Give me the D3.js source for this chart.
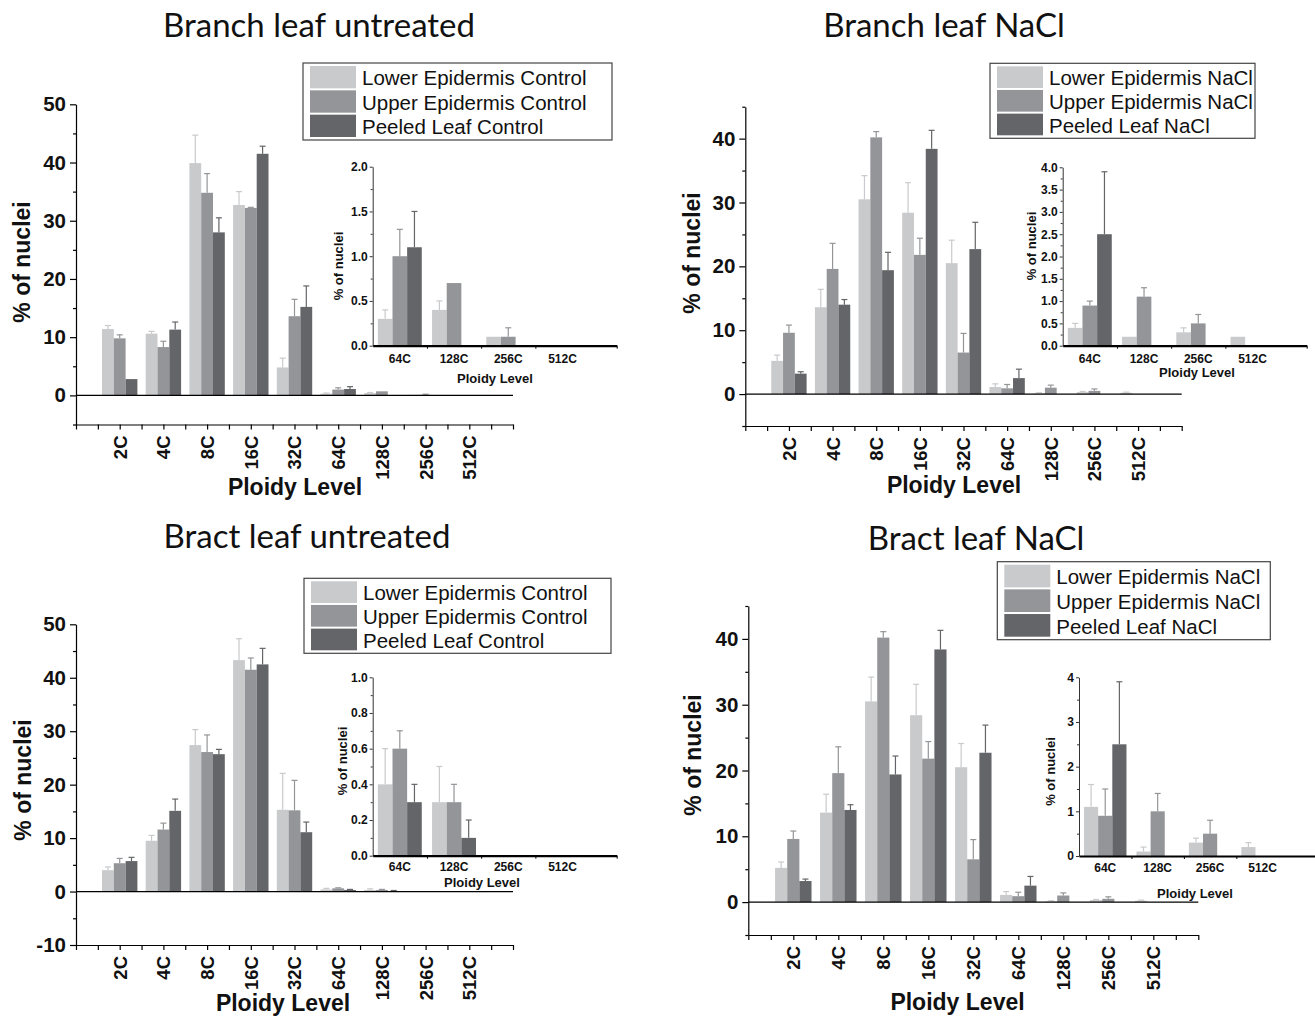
<!DOCTYPE html>
<html>
<head>
<meta charset="utf-8">
<script src="https://cdn.jsdelivr.net/npm/d3@7"></script>
<style>
  body { margin: 0; background: #fff; }
  svg text { font-family: "Liberation Sans", Arial, sans-serif; fill: #111; }
  .title { font-family: Lato, "Open Sans", sans-serif; font-size: 33px; }
</style>
</head>
<body>
<svg width="1315" height="1016"></svg>
<script>

var ploidy = ["2C", "4C", "8C", "16C", "32C", "64C", "128C", "256C", "512C"];
var insetPloidy = ["64C", "128C", "256C", "512C"];

var controlNames = ["Lower Epidermis Control", "Upper Epidermis Control", "Peeled Leaf Control"];
var naclNames = ["Lower Epidermis NaCl", "Upper Epidermis NaCl", "Peeled Leaf NaCl"];

var colors = ["#c9cacc", "#949598", "#646568"];

// branch leaf, untreated
var branchLower    = [11.4, 10.6, 39.9, 32.7, 4.8, 0.3, 0.4, 0.1, 0];
var branchLowerErr = [0.6, 0.4, 4.8, 2.3, 1.6, 0.1, 0.1, 0, 0];
var branchUpper    = [9.8, 8.3, 34.8, 32.2, 13.6, 1.0, 0.7, 0.1, 0];
var branchUpperErr = [0.6, 1.0, 3.3, 0.1, 2.9, 0.3, 0, 0.1, 0];
var branchPeeled    = [2.8, 11.3, 28.0, 41.5, 15.2, 1.1, 0, 0, 0];
var branchPeeledErr = [0, 1.3, 2.5, 1.3, 3.6, 0.4, 0, 0, 0];

// NaCl (the main plots of both NaCl panels show the same values)
var naclLower    = [5.2, 13.6, 30.5, 28.4, 20.5, 1.1, 0.1, 0.3, 0.2];
var naclLowerErr = [0.9, 2.8, 3.7, 4.7, 3.6, 0.5, 0.1, 0.1, 0.1];
var naclUpper    = [9.6, 19.6, 40.2, 21.8, 6.5, 0.9, 1.0, 0.5, 0];
var naclUpperErr = [1.2, 4.0, 0.9, 2.6, 3.0, 0.6, 0.4, 0.3, 0];
var naclPeeled    = [3.2, 14.0, 19.4, 38.4, 22.7, 2.5, 0, 0, 0];
var naclPeeledErr = [0.3, 0.8, 2.8, 2.9, 4.2, 1.4, 0, 0, 0];

// inset of branch leaf NaCl
var branchNaclInsetLower    = [0.4, 0.2, 0.3, 0.2];
var branchNaclInsetLowerErr = [0.1, 0, 0.1, 0];
var branchNaclInsetUpper    = [0.9, 1.1, 0.5, 0];
var branchNaclInsetUpperErr = [0.1, 0.2, 0.2, 0];
var branchNaclInsetPeeled    = [2.5, 0, 0, 0];
var branchNaclInsetPeeledErr = [1.4, 0, 0, 0];

// bract leaf, untreated
var bractLower    = [4.0, 9.5, 27.4, 43.3, 15.3, 0.4, 0.3, 0, 0];
var bractLowerErr = [0.6, 1.0, 2.9, 4.0, 6.8, 0.2, 0.2, 0, 0];
var bractUpper    = [5.3, 11.6, 26.1, 41.5, 15.2, 0.6, 0.3, 0, 0];
var bractUpperErr = [0.9, 1.2, 3.2, 2.2, 5.6, 0.1, 0.1, 0, 0];
var bractPeeled    = [5.7, 15.1, 25.7, 42.5, 11.1, 0.3, 0.1, 0, 0];
var bractPeeledErr = [0.7, 2.2, 0.9, 3.0, 1.9, 0.1, 0.1, 0, 0];

function series(vals, errs) {
  return vals.map(function(v, i) { return {values: v, errs: errs[i]}; });
}
function tail(list) {
  return list.map(function(s) { return {values: s.values.slice(5), errs: s.errs.slice(5)}; });
}

var branchSeries = series([branchLower, branchUpper, branchPeeled], [branchLowerErr, branchUpperErr, branchPeeledErr]);
var naclSeries = series([naclLower, naclUpper, naclPeeled], [naclLowerErr, naclUpperErr, naclPeeledErr]);
var bractSeries = series([bractLower, bractUpper, bractPeeled], [bractLowerErr, bractUpperErr, bractPeeledErr]);
var branchNaclInset = series([branchNaclInsetLower, branchNaclInsetUpper, branchNaclInsetPeeled],
  [branchNaclInsetLowerErr, branchNaclInsetUpperErr, branchNaclInsetPeeledErr]);

var panels = [
  {title: "Branch leaf untreated", titleX: 319, titleY: 37,
   left: 76, right: 513, top: 104.3, bottom: 424.5, yDomain: [-5, 50],
   series: branchSeries, names: controlNames,
   legend: {x: 303, y: 63, w: 309, h: 77},
   xTitle: [295, 495], yTitle: [22, 262],
   inset: {left: 372.7, right: 616.7, top: 166.7, bottom: 345.7, max: 2, major: 0.5, minor: 0.25, fmt: ".1f",
           series: tail(branchSeries), labelY: 363, xTitle: [495, 383], yTitle: [338.5, 266]}},
  {title: "Branch leaf NaCl", titleX: 944, titleY: 37,
   left: 745.3, right: 1181.7, top: 106.7, bottom: 426, yDomain: [-5, 45],
   series: naclSeries, names: naclNames,
   legend: {x: 990, y: 63.3, w: 265, h: 75},
   xTitle: [954, 493], yTitle: [692, 253],
   inset: {left: 1062.7, right: 1306.7, top: 167.3, bottom: 345.7, max: 4, major: 0.5, minor: 0.25, fmt: ".1f",
           series: branchNaclInset, labelY: 363, xTitle: [1197, 377], yTitle: [1031, 246]}},
  {title: "Bract leaf untreated", titleX: 307, titleY: 548,
   left: 76, right: 513, top: 624.3, bottom: 945, yDomain: [-10, 50],
   series: bractSeries, names: controlNames,
   legend: {x: 304, y: 578.3, w: 307, h: 75},
   xTitle: [283, 1011], yTitle: [22.5, 780],
   inset: {left: 372.7, right: 616.7, top: 677.3, bottom: 855.7, max: 1, major: 0.2, minor: 0.1, fmt: ".1f",
           series: tail(bractSeries), labelY: 871, xTitle: [482, 887], yTitle: [342.5, 761]}},
  {title: "Bract leaf NaCl", titleX: 976, titleY: 550,
   left: 748.3, right: 1198.3, top: 606, bottom: 935, yDomain: [-5, 45],
   series: naclSeries, names: naclNames,
   legend: {x: 997.3, y: 561.7, w: 273, h: 78},
   xTitle: [957.5, 1010], yTitle: [693, 755],
   inset: {left: 1079, right: 1315, top: 677.3, bottom: 856, max: 4, major: 1, minor: 0.5, fmt: "d",
           series: tail(naclSeries), labelY: 872, xTitle: [1195, 898], yTitle: [1050, 771.5]}}
];

var svg = d3.select("svg");

function drawBars(g, x, y, list, bw) {
  list.forEach(function(s, si) {
    var rows = s.values.map(function(v, i) { return {v: v, e: s.errs[i], i: i}; });
    g.append("g").selectAll("rect").data(rows.filter(function(d) { return d.v > 0; }))
      .enter().append("rect")
      .attr("x", function(d) { return x(d.i + 1) + (si - 1.5) * bw; })
      .attr("width", bw)
      .attr("y", function(d) { return y(d.v); })
      .attr("height", function(d) { return y(0) - y(d.v); })
      .attr("fill", colors[si]);

    var err = g.append("g").attr("stroke", colors[si]).attr("stroke-width", 1.2)
      .selectAll("g").data(rows.filter(function(d) { return d.e > 0; }))
      .enter().append("g");
    err.append("line")
      .attr("x1", function(d) { return x(d.i + 1) + (si - 1) * bw; })
      .attr("x2", function(d) { return x(d.i + 1) + (si - 1) * bw; })
      .attr("y1", function(d) { return y(d.v); })
      .attr("y2", function(d) { return y(d.v + d.e); });
    err.append("line")
      .attr("x1", function(d) { return x(d.i + 1) + (si - 1) * bw - 3; })
      .attr("x2", function(d) { return x(d.i + 1) + (si - 1) * bw + 3; })
      .attr("y1", function(d) { return y(d.v + d.e); })
      .attr("y2", function(d) { return y(d.v + d.e); });
  });
}

function drawPanel(p) {
  var g = svg.append("g");

  g.append("text").attr("class", "title")
    .attr("x", p.titleX).attr("y", p.titleY)
    .attr("text-anchor", "middle")
    .text(p.title);

  var x = d3.scaleLinear().domain([0, 10]).range([p.left, p.right]);
  var y = d3.scaleLinear().domain(p.yDomain).range([p.bottom, p.top]);
  var bw = x(0.27) - x(0);

  drawBars(g, x, y, p.series, bw);

  g.append("line")
    .attr("x1", p.left).attr("x2", p.right)
    .attr("y1", y(0)).attr("y2", y(0))
    .attr("stroke", "#000").attr("stroke-width", 1.2);

  // y axis, major + minor ticks
  var majors = d3.range(Math.ceil(p.yDomain[0] / 10) * 10, p.yDomain[1] + 0.1, 10);
  var minors = d3.range(p.yDomain[0], p.yDomain[1] + 0.1, 5).filter(function(d) { return d % 10 !== 0; });

  var ya = g.append("g").attr("transform", "translate(" + p.left + ",0)")
    .call(d3.axisLeft(y).tickValues(majors).tickSize(6).tickSizeOuter(0).tickPadding(4)
      .tickFormat(function(d) { return String(d); }));
  ya.selectAll("text").attr("font-size", 20.5).attr("font-weight", "bold").attr("font-family", null);
  g.append("g").attr("transform", "translate(" + p.left + ",0)")
    .call(d3.axisLeft(y).tickValues(minors).tickSize(3).tickFormat(""))
    .select(".domain").remove();

  // x axis
  var xa = g.append("g").attr("transform", "translate(0," + p.bottom + ")")
    .call(d3.axisBottom(x)
      .tickValues(d3.range(0, 21).map(function(d) { return d / 2; }))
      .tickSize(5).tickSizeOuter(0)
      .tickFormat(function(d) { return (d % 1 === 0 && d >= 1 && d <= 9) ? ploidy[d - 1] : ""; }));
  xa.selectAll("text")
    .attr("transform", "rotate(-90)")
    .attr("x", -11).attr("y", 0).attr("dy", "0.35em")
    .style("text-anchor", "end")
    .attr("font-size", 18.5).attr("font-weight", "bold").attr("font-family", null);

  g.selectAll(".domain, .tick line").attr("stroke", "#000").attr("stroke-width", 1.2);

  g.append("text")
    .attr("x", p.xTitle[0]).attr("y", p.xTitle[1])
    .attr("text-anchor", "middle")
    .attr("font-size", 23).attr("font-weight", "bold")
    .text("Ploidy Level");

  g.append("text")
    .attr("transform", "translate(" + p.yTitle[0] + "," + p.yTitle[1] + ") rotate(-90)")
    .attr("text-anchor", "middle").attr("dy", "0.35em")
    .attr("font-size", 23).attr("font-weight", "bold")
    .text("% of nuclei");

  drawLegend(g, p.legend, p.names);
  drawInset(g, p.inset);
}

function drawLegend(g, b, names) {
  var lg = g.append("g");
  lg.append("rect")
    .attr("x", b.x).attr("y", b.y).attr("width", b.w).attr("height", b.h)
    .attr("fill", "#fff").attr("stroke", "#444").attr("stroke-width", 1.2);
  var rowH = (b.h - 4) / 3;
  var rows = lg.selectAll("g.row").data(names).enter().append("g")
    .attr("transform", function(d, i) { return "translate(" + (b.x + 7) + "," + (b.y + 2 + i * rowH) + ")"; });
  rows.append("rect")
    .attr("width", 46).attr("height", rowH - 2).attr("y", 1)
    .attr("fill", function(d, i) { return colors[i]; });
  rows.append("text")
    .attr("x", 52).attr("y", rowH / 2 + 1).attr("dy", "0.35em")
    .attr("font-size", 20.5)
    .text(function(d) { return d; });
}

function drawInset(g, q) {
  var ig = g.append("g");
  var x = d3.scaleLinear().domain([0.5, 5]).range([q.left, q.right]);
  var y = d3.scaleLinear().domain([0, q.max]).range([q.bottom, q.top]);
  var bw = x(0.77) - x(0.5);

  drawBars(ig, x, y, q.series, bw);

  var majors = d3.range(0, q.max + q.major / 2, q.major);
  var minors = d3.range(0, q.max + q.minor / 2, q.minor).filter(function(d) {
    return Math.abs(d / q.major - Math.round(d / q.major)) > 0.01;
  });

  var ya = ig.append("g").attr("transform", "translate(" + q.left + ",0)")
    .call(d3.axisLeft(y).tickValues(majors).tickSize(3).tickSizeOuter(0).tickPadding(2).tickFormat(d3.format(q.fmt)));
  ya.selectAll("text").attr("font-size", 12).attr("font-weight", "bold").attr("font-family", null);
  ig.append("g").attr("transform", "translate(" + q.left + ",0)")
    .call(d3.axisLeft(y).tickValues(minors).tickSize(2).tickFormat(""))
    .select(".domain").remove();
  ya.selectAll(".domain, .tick line").attr("stroke", "#333");
  ig.selectAll(".tick line").attr("stroke", "#333");

  var xa = ig.append("g").attr("transform", "translate(0," + q.bottom + ")")
    .call(d3.axisBottom(x).tickValues([1.5, 2.5, 3.5, 5]).tickSize(3).tickSizeOuter(0).tickFormat(""));
  xa.select(".domain").attr("stroke", "#000").attr("stroke-width", 2.2);
  xa.selectAll(".tick line").attr("stroke", "#000");

  ig.append("g").selectAll("text").data(insetPloidy).enter().append("text")
    .attr("x", function(d, i) { return x(i + 1); })
    .attr("y", q.labelY)
    .attr("text-anchor", "middle")
    .attr("font-size", 12).attr("font-weight", "bold")
    .text(function(d) { return d; });

  ig.append("text")
    .attr("x", q.xTitle[0]).attr("y", q.xTitle[1])
    .attr("text-anchor", "middle")
    .attr("font-size", 13).attr("font-weight", "bold")
    .text("Ploidy Level");

  ig.append("text")
    .attr("transform", "translate(" + q.yTitle[0] + "," + q.yTitle[1] + ") rotate(-90)")
    .attr("text-anchor", "middle").attr("dy", "0.35em")
    .attr("font-size", 13).attr("font-weight", "bold")
    .text("% of nuclei");
}

panels.forEach(drawPanel);

</script>
</body>
</html>
